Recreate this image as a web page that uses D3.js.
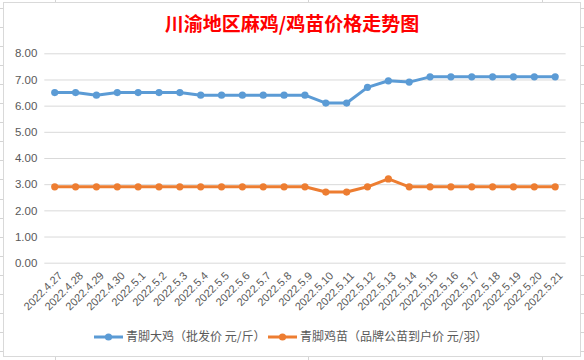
<!DOCTYPE html>
<html><head><meta charset="utf-8">
<script src="https://cdn.jsdelivr.net/npm/d3@7"></script>
<style>html,body{margin:0;padding:0;background:#fff;}svg{display:block;}</style>
</head><body>
<svg id="c" width="584" height="360"></svg>
<script>
const title = "川渝地区麻鸡/鸡苗价格走势图";
const categories = ["2022.4.27","2022.4.28","2022.4.29","2022.4.30","2022.5.1","2022.5.2","2022.5.3","2022.5.4","2022.5.5","2022.5.6","2022.5.7","2022.5.8","2022.5.9","2022.5.10","2022.5.11","2022.5.12","2022.5.13","2022.5.14","2022.5.15","2022.5.16","2022.5.17","2022.5.18","2022.5.19","2022.5.20","2022.5.21"];
const chickenName = "青脚大鸡（批发价 元/斤）";
const chickenValues = [6.5,6.5,6.4,6.5,6.5,6.5,6.5,6.4,6.4,6.4,6.4,6.4,6.4,6.1,6.1,6.7,6.95,6.9,7.1,7.1,7.1,7.1,7.1,7.1,7.1];
const chickName = "青脚鸡苗（品牌公苗到户价 元/羽）";
const chickValues = [2.9,2.9,2.9,2.9,2.9,2.9,2.9,2.9,2.9,2.9,2.9,2.9,2.9,2.7,2.7,2.9,3.2,2.9,2.9,2.9,2.9,2.9,2.9,2.9,2.9];
const yTicks = [0,1,2,3,4,5,6,7,8];

const series = [
  {name: chickenName, values: chickenValues, color: "#5B9BD5"},
  {name: chickName, values: chickValues, color: "#ED7D31"}
];

const svg = d3.select("#c");
const W = 584, H = 360;

// spreadsheet background grid
const rowYs = d3.range(0, 19).map(k => 7.8 + 19.07 * k);
const colXs = [55, 308, 542];
svg.append("g").selectAll("line.r").data(rowYs).join("line")
  .attr("x1", 0).attr("x2", W).attr("y1", d => Math.round(d) + 0.5).attr("y2", d => Math.round(d) + 0.5)
  .attr("stroke", "#D4D4D4").attr("stroke-width", 1);
svg.append("g").selectAll("line.c").data(colXs).join("line")
  .attr("y1", 0).attr("y2", H).attr("x1", d => d + 0.5).attr("x2", d => d + 0.5)
  .attr("stroke", "#D4D4D4").attr("stroke-width", 1);

// chart area
svg.append("rect").attr("x", 3.5).attr("y", 2.5).attr("width", 577).attr("height", 354)
  .attr("fill", "#fff").attr("stroke", "#D9D9D9").attr("stroke-width", 1);

const x = d3.scalePoint().domain(categories).range([44.3, 565.6]).padding(0.5);
const y = d3.scaleLinear().domain([0, 8]).range([262.7, 53.3]);

// title
svg.append("text").attr("x", 292).attr("y", 31).attr("text-anchor", "middle")
  .attr("font-family", "'Noto Sans CJK SC', sans-serif").attr("font-weight", 700)
  .attr("font-size", 19).attr("fill", "#FF0000").text(title);

// y grid + labels
const yAxis = d3.axisLeft(y).tickValues(yTicks).tickSize(-(565.6 - 44.3)).tickFormat(d3.format(".2f")).tickPadding(7);
const gy = svg.append("g").attr("transform", "translate(44.3,0)").call(yAxis);
gy.select(".domain").remove();
gy.selectAll(".tick line").attr("stroke", "#D9D9D9").attr("stroke-width", 1);
gy.selectAll(".tick text").attr("fill", "#595959").attr("font-size", 11.5)
  .attr("font-family", "'Liberation Sans', Arial, sans-serif");

// x axis labels
const xAxis = d3.axisBottom(x).tickSize(0).tickPadding(0);
const gx = svg.append("g").attr("transform", "translate(0,262.7)").call(xAxis);
gx.select(".domain").remove();
gx.selectAll(".tick text")
  .attr("fill", "#595959").attr("font-size", 11)
  .attr("font-family", "'Liberation Sans', Arial, sans-serif")
  .attr("text-anchor", "end")
  .attr("transform", "translate(5,11) rotate(-45)")
  .attr("dy", "0.35em").attr("y", 0).attr("x", 0);

// lines
const line = d3.line().x((d, i) => x(categories[i])).y(d => y(d));
series.forEach(s => {
  svg.append("path").datum(s.values).attr("d", line).attr("fill", "none")
    .attr("stroke", s.color).attr("stroke-width", 3).attr("stroke-linejoin", "round");
  svg.append("g").selectAll("circle").data(s.values).join("circle")
    .attr("cx", (d, i) => x(categories[i])).attr("cy", d => y(d)).attr("r", 3.6)
    .attr("fill", s.color);
});

// legend
const legendItems = [
  {x0: 94, s: series[0]},
  {x0: 268, s: series[1]}
];
const lg = svg.append("g");
legendItems.forEach(it => {
  const g = lg.append("g").attr("transform", `translate(${it.x0},337)`);
  g.append("line").attr("x1", 0).attr("x2", 29).attr("y1", 0).attr("y2", 0)
    .attr("stroke", it.s.color).attr("stroke-width", 3);
  g.append("circle").attr("cx", 14.5).attr("cy", 0).attr("r", 3.6).attr("fill", it.s.color);
  g.append("text").attr("x", 32).attr("y", 0).attr("dy", "0.35em")
    .attr("font-family", "'Noto Sans CJK SC', sans-serif").attr("font-size", 12)
    .attr("fill", "#595959").text(it.s.name);
});
</script>
</body></html>
